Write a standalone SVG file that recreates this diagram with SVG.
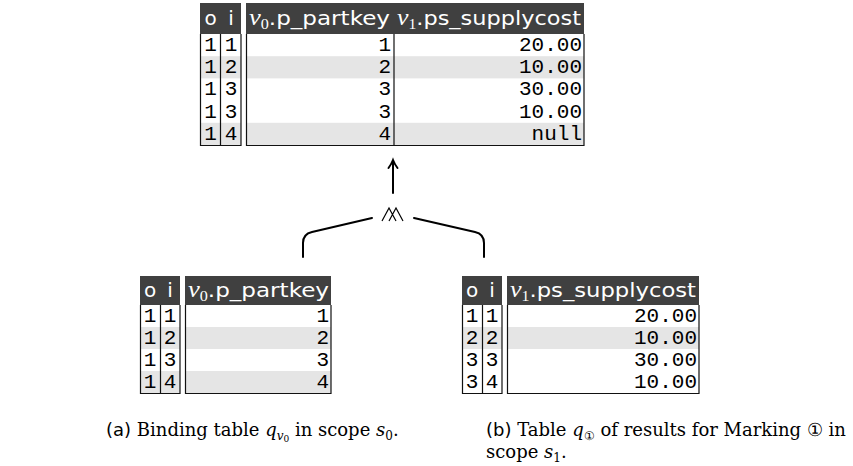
<svg xmlns="http://www.w3.org/2000/svg" width="853" height="466" viewBox="0 0 853 466">
<style>
.hd{fill:#404040}
.sh{fill:#e5e5e5}
.bd{stroke:#111;stroke-width:1.2;fill:none}
.ht{fill:#fff;font-family:"DejaVu Sans",sans-serif;font-size:20px}
.mi{font-family:"Liberation Serif",serif;font-style:italic}
.mr{font-family:"Liberation Serif",serif;font-style:normal}
.d{font-family:"Liberation Mono",monospace;font-size:21px;fill:#000}
.c{text-anchor:middle}
.e{text-anchor:end}
.cap{font-family:"DejaVu Serif",serif;font-size:18px;fill:#000}
.sf{font-family:"DejaVu Sans",sans-serif;font-size:18px}
.ln{stroke:#000;stroke-width:2;fill:none;stroke-linecap:round}
.op{stroke:#000;stroke-width:1.2;fill:none;stroke-linejoin:miter}
</style>
<g id="result-table">
<rect class="hd" x="200" y="3" width="41" height="31"/>
<rect class="hd" x="246" y="3" width="338" height="31"/>
<rect class="sh" x="200" y="56.2" width="41" height="22.2"/>
<rect class="sh" x="246" y="56.2" width="338" height="22.2"/>
<rect class="sh" x="200" y="122.8" width="41" height="22.2"/>
<rect class="sh" x="246" y="122.8" width="338" height="22.2"/>
<path class="bd" d="M200.5,34V145.5H241V34M220.5,34V145.5M246.5,34V145.5H584V34M394,34V145.5"/>
<text class="ht c" x="210.5" y="25">o</text>
<text class="ht c" x="231" y="25">i</text>
<text class="ht" x="249" y="25" textLength="141" lengthAdjust="spacingAndGlyphs"><tspan class="mi" font-size="23">v</tspan><tspan class="mr" font-size="14" dy="4">0</tspan><tspan dy="-4">.p_partkey</tspan></text>
<text class="ht" x="397" y="25" textLength="184" lengthAdjust="spacingAndGlyphs"><tspan class="mi" font-size="23">v</tspan><tspan class="mr" font-size="14" dy="4">1</tspan><tspan dy="-4">.ps_supplycost</tspan></text>
<g class="d c">
<text x="210.5" y="51">1</text><text x="231" y="51">1</text>
<text x="210.5" y="73.2">1</text><text x="231" y="73.2">2</text>
<text x="210.5" y="95.4">1</text><text x="231" y="95.4">3</text>
<text x="210.5" y="117.6">1</text><text x="231" y="117.6">3</text>
<text x="210.5" y="139.8">1</text><text x="231" y="139.8">4</text>
</g>
<g class="d e">
<text x="391" y="51">1</text><text x="582" y="51">20.00</text>
<text x="391" y="73.2">2</text><text x="582" y="73.2">10.00</text>
<text x="391" y="95.4">3</text><text x="582" y="95.4">30.00</text>
<text x="391" y="117.6">3</text><text x="582" y="117.6">10.00</text>
<text x="391" y="139.8">4</text><text x="582" y="139.8">null</text>
</g>
</g>
<g id="join">
<path class="op" d="M382,221L389,208L396,221M389,221L396,208L403,221"/>
</g>
<g id="binding-table">
<rect class="hd" x="140" y="276" width="40" height="29"/>
<rect class="hd" x="185" y="276" width="146" height="29"/>
<rect class="sh" x="140" y="327" width="40" height="22"/>
<rect class="sh" x="185" y="327" width="146" height="22"/>
<rect class="sh" x="140" y="371" width="40" height="22"/>
<rect class="sh" x="185" y="371" width="146" height="22"/>
<path class="bd" d="M140.5,305V393.5H180V305M160.5,305V393.5M185.5,305V393.5H331V305"/>
<text class="ht c" x="150" y="297">o</text>
<text class="ht c" x="170" y="297">i</text>
<text class="ht" x="188" y="297" textLength="141" lengthAdjust="spacingAndGlyphs"><tspan class="mi" font-size="23">v</tspan><tspan class="mr" font-size="14" dy="4">0</tspan><tspan dy="-4">.p_partkey</tspan></text>
<g class="d c">
<text x="150" y="322">1</text><text x="170" y="322">1</text>
<text x="150" y="344">1</text><text x="170" y="344">2</text>
<text x="150" y="366">1</text><text x="170" y="366">3</text>
<text x="150" y="388">1</text><text x="170" y="388">4</text>
</g>
<g class="d e">
<text x="329" y="322">1</text>
<text x="329" y="344">2</text>
<text x="329" y="366">3</text>
<text x="329" y="388">4</text>
</g>
</g>
<g id="marking-table">
<rect class="hd" x="462" y="276" width="40" height="29"/>
<rect class="hd" x="507" y="276" width="192" height="29"/>
<rect class="sh" x="462" y="327" width="40" height="22"/>
<rect class="sh" x="507" y="327" width="192" height="22"/>
<path class="bd" d="M462.5,305V393.5H502V305M482.5,305V393.5M507.5,305V393.5H699V305"/>
<text class="ht c" x="472" y="297">o</text>
<text class="ht c" x="492" y="297">i</text>
<text class="ht" x="510" y="297" textLength="186" lengthAdjust="spacingAndGlyphs"><tspan class="mi" font-size="23">v</tspan><tspan class="mr" font-size="14" dy="4">1</tspan><tspan dy="-4">.ps_supplycost</tspan></text>
<g class="d c">
<text x="472" y="322">1</text><text x="492" y="322">1</text>
<text x="472" y="344">2</text><text x="492" y="344">2</text>
<text x="472" y="366">3</text><text x="492" y="366">3</text>
<text x="472" y="388">3</text><text x="492" y="388">4</text>
</g>
<g class="d e">
<text x="697" y="322">20.00</text>
<text x="697" y="344">10.00</text>
<text x="697" y="366">30.00</text>
<text x="697" y="388">10.00</text>
</g>
</g>
<g id="connectors">
<path class="ln" d="M393,193V161M388.5,168Q391.5,164 393,160Q394.5,164 397.5,168"/>
<path class="ln" d="M372,218L312,232Q303,234 303,243V257"/>
<path class="ln" d="M414,218L475,232Q484,234 484,243V257"/>
</g>
<g id="captions">
<text class="cap" x="106" y="436"><tspan class="sf">(a)</tspan>  Binding table <tspan font-style="italic">q</tspan><tspan font-size="12" font-style="italic" dy="4">v</tspan><tspan font-size="9" dy="2">0</tspan><tspan dy="-6"> in scope </tspan><tspan font-style="italic">s</tspan><tspan font-size="12" dy="4">0</tspan><tspan dy="-4">.</tspan></text>
<text class="cap" x="486" y="436"><tspan class="sf">(b)</tspan>  Table <tspan font-style="italic">q</tspan><tspan font-size="12" dy="4">①</tspan><tspan dy="-4"> of results for Marking ① in</tspan></text>
<text class="cap" x="486" y="458">scope <tspan font-style="italic">s</tspan><tspan font-size="12" dy="4">1</tspan><tspan dy="-4">.</tspan></text>
</g>
</svg>
